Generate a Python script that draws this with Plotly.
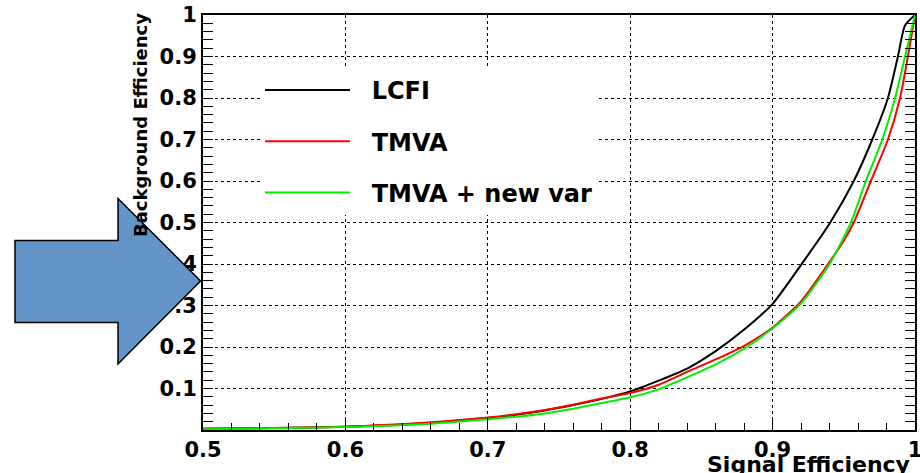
import plotly.graph_objects as go

# Signal efficiency / background efficiency points
sig_lcfi = [0.50, 0.55, 0.60, 0.65, 0.70, 0.72, 0.74, 0.76, 0.78, 0.80, 0.82, 0.84,
            0.86, 0.88, 0.90, 0.92, 0.9405, 0.957, 0.970, 0.981, 0.988, 0.993, 1.0]
bkg_lcfi = [0.003, 0.005, 0.008, 0.015, 0.029, 0.037, 0.047, 0.060, 0.075, 0.093, 0.119, 0.148,
            0.190, 0.242, 0.304, 0.398, 0.50, 0.60, 0.70, 0.80, 0.90, 0.975, 1.0]

sig_tmva = [0.50, 0.55, 0.60, 0.65, 0.70, 0.72, 0.74, 0.76, 0.78, 0.80, 0.82, 0.84, 0.86,
            0.88, 0.90, 0.92, 0.94, 0.95, 0.957, 0.969, 0.981, 0.9895, 0.995, 1.0]
bkg_tmva = [0.003, 0.005, 0.008, 0.016, 0.030, 0.038, 0.048, 0.061, 0.076, 0.089, 0.109, 0.140, 0.170,
            0.203, 0.247, 0.31, 0.405, 0.456, 0.50, 0.60, 0.70, 0.80, 0.90, 1.0]

sig_new = [0.50, 0.55, 0.60, 0.65, 0.70, 0.72, 0.74, 0.76, 0.78, 0.80, 0.82, 0.84, 0.86,
           0.88, 0.90, 0.92, 0.94, 0.955, 0.9655, 0.977, 0.986, 0.993, 0.9965, 1.0]
bkg_new = [0.002, 0.004, 0.007, 0.013, 0.026, 0.032, 0.040, 0.051, 0.065, 0.079, 0.098, 0.127, 0.158,
           0.196, 0.245, 0.305, 0.400, 0.50, 0.60, 0.70, 0.80, 0.90, 0.95, 1.0]

series_names = ["LCFI", "TMVA", "TMVA + new var"]
series_colors = ["#000000", "#ff0000", "#00ee00"]

x_ticks = [0.5, 0.6, 0.7, 0.8, 0.9, 1.0]
x_tick_labels = ["0.5", "0.6", "0.7", "0.8", "0.9", "1"]
y_ticks = [0.1, 0.2, 0.3, 0.4, 0.5, 0.6, 0.7, 0.8, 0.9, 1.0]
y_tick_labels = ["0.1", "0.2", "0.3", "0.4", "0.5", "0.6", "0.7", "0.8", "0.9", "1"]

FONT = "DejaVu Sans"
NBSP = "\u00a0\u00a0"

fig = go.Figure()
for xs, ys, name, col in zip([sig_lcfi, sig_tmva, sig_new], [bkg_lcfi, bkg_tmva, bkg_new],
                             series_names, series_colors):
    fig.add_trace(go.Scatter(x=xs, y=ys, mode="lines", name=NBSP + name, legendgroup=name,
                             line=dict(color=col, width=2, shape="spline", smoothing=0.6)))

grid_common = dict(showgrid=True, gridcolor="black", griddash="dot", gridwidth=1, zeroline=False)
tickfont = dict(family=FONT, size=21, color="black", weight="bold")

fig.update_layout(
    xaxis=dict(range=[0.5, 1.0], tickmode="array", tickvals=x_ticks, ticktext=x_tick_labels,
               showline=True, linecolor="black", linewidth=2, mirror=True,
               ticks="inside", ticklen=12, tickcolor="black", tickwidth=1,
               ticklabeloverflow="allow", automargin=False,
               minor=dict(ticks="inside", ticklen=7, dtick=0.02, tick0=0.5,
                          tickcolor="black", showgrid=False),
               tickfont=tickfont, **grid_common),
    xaxis2=dict(range=[0.5, 1.0], overlaying="x", side="top", anchor="y",
                tickmode="array", tickvals=x_ticks, showticklabels=False, automargin=False,
                showline=False, showgrid=False, zeroline=False,
                ticks="inside", ticklen=6, tickcolor="black", tickwidth=1,
                minor=dict(ticks="inside", ticklen=5, dtick=0.02, tick0=0.5,
                           tickcolor="black", showgrid=False)),
    yaxis=dict(range=[0.0, 1.0], tickmode="array", tickvals=y_ticks, ticktext=y_tick_labels,
               showline=True, linecolor="black", linewidth=2, mirror="allticks",
               ticks="inside", ticklen=10, tickcolor="black", tickwidth=1, automargin=False,
               minor=dict(ticks="inside", ticklen=10, dtick=0.02, tick0=0,
                          tickcolor="black", showgrid=False),
               tickfont=tickfont, **grid_common),
)

# Axis titles (ROOT style: right/top aligned)
fig.add_annotation(text="Signal Efficiency", xref="paper", yref="paper", x=0.9958, y=-0.084,
                   xanchor="right", yanchor="middle", showarrow=False,
                   font=dict(family=FONT, size=22, color="black", weight="bold"))
fig.add_annotation(text="Background Efficiency", xref="paper", yref="paper", x=-0.087, y=0.735,
                   xanchor="center", yanchor="middle", textangle=-90, showarrow=False,
                   font=dict(family=FONT, size=18, color="black", weight="bold"))

# Blue block arrow pointing at the plot
ax = [15, 118, 118, 200.5, 118, 118, 15]
ay = [240.5, 240.5, 198.5, 281, 364, 322.5, 322.5]
L, T, W, H = 203, 15, 712, 415
pts = [((px - L) / W, (T + H - py) / H) for px, py in zip(ax, ay)]
path = "M " + " L ".join(f"{x:.5f},{y:.5f}" for x, y in pts) + " Z"
fig.add_shape(type="path", path=path, xref="paper", yref="paper",
              fillcolor="#6394c8", line=dict(color="black", width=1.5), layer="above")

fig.update_layout(
    width=920, height=473,
    margin=dict(l=L, r=920 - L - W, t=T, b=473 - T - H, autoexpand=False),
    paper_bgcolor="white", plot_bgcolor="white",
    showlegend=True,
    legend=dict(x=(260 - L) / W, y=(T + H - 68) / H, xanchor="left", yanchor="top",
                bgcolor="white", borderwidth=0, itemwidth=85, tracegroupgap=17,
                entrywidth=470, entrywidthmode="pixels",
                font=dict(family=FONT, size=24, color="black", weight="bold")),
)

fig.write_html("out.html")
